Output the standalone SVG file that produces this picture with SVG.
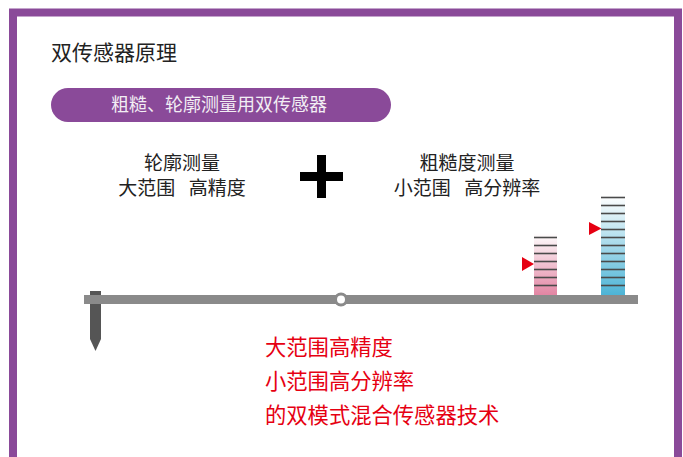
<svg xmlns="http://www.w3.org/2000/svg" width="683" height="457" viewBox="0 0 683 457">
<defs>
<style>
text{font-family:"Noto Sans CJK SC","Noto Sans",sans-serif;}
.dark{fill:#222;}
.head{font-size:19px;fill:#222;text-anchor:middle;}
.red{font-size:21.3px;fill:#e60012;}
.tick{stroke:#4a4a4a;stroke-width:1.6;}
.mark{fill:#e60012;}
</style>
<linearGradient id="gPink" x1="0" y1="0" x2="0" y2="1">
<stop offset="0" stop-color="#ffffff"/>
<stop offset="1" stop-color="#e285a3"/>
</linearGradient>
<linearGradient id="gBlue" x1="0" y1="0" x2="0" y2="1">
<stop offset="0" stop-color="#ffffff"/>
<stop offset="1" stop-color="#4db4d6"/>
</linearGradient>
</defs>
<rect x="0" y="0" width="683" height="457" fill="#fff"/>
<rect x="13" y="12.5" width="665" height="460" fill="none" stroke="#8a4a99" stroke-width="8"/>
<g id="title"><text class="dark" x="51" y="60" font-size="21">双传感器原理</text></g>
<g id="banner">
<rect x="51" y="88" width="340" height="34" rx="17" fill="#8a4a99"/>
<text x="219" y="111" font-size="18" fill="#f2eef4" text-anchor="middle">粗糙、轮廓测量用双传感器</text>
</g>
<g id="contour">
<text class="head" x="182" y="170">轮廓测量</text>
<text class="head" x="182" y="195" style="white-space:pre">大范围  <tspan dx="5">高精度</tspan></text>
</g>
<g id="plus">
<rect x="300" y="172" width="43" height="9" fill="#000"/>
<rect x="317" y="155" width="9" height="43" fill="#000"/>
</g>
<g id="roughness">
<text class="head" x="467" y="170">粗糙度测量</text>
<text class="head" x="467" y="195" style="white-space:pre">小范围  <tspan dx="5">高分辨率</tspan></text>
</g>
<g id="probe">
<polygon points="90,291 101,291 101,339 95.5,351 90,339" fill="#555"/>
</g>
<g id="beam">
<rect x="84" y="295" width="554" height="9" fill="#8a8a8a"/>
<circle cx="341" cy="299.5" r="5.5" fill="#fff" stroke="#8a8a8a" stroke-width="3"/>
</g>
<g id="pinkScale">
<rect x="534" y="233" width="23" height="62" fill="url(#gPink)"/>
<g class="tick">
<line x1="534" y1="237.5" x2="557" y2="237.5"/>
<line x1="534" y1="245.5" x2="557" y2="245.5"/>
<line x1="534" y1="253.5" x2="557" y2="253.5"/>
<line x1="534" y1="261.5" x2="557" y2="261.5"/>
<line x1="534" y1="269.5" x2="557" y2="269.5"/>
<line x1="534" y1="277.5" x2="557" y2="277.5"/>
<line x1="534" y1="285.5" x2="557" y2="285.5"/>
</g>
<polygon class="mark" points="522,257 534,264 522,271"/>
</g>
<g id="blueScale">
<rect x="601" y="196" width="24" height="99" fill="url(#gBlue)"/>
<g class="tick">
<line x1="601" y1="197.5" x2="625" y2="197.5"/>
<line x1="601" y1="205.5" x2="625" y2="205.5"/>
<line x1="601" y1="213.5" x2="625" y2="213.5"/>
<line x1="601" y1="221.5" x2="625" y2="221.5"/>
<line x1="601" y1="229.5" x2="625" y2="229.5"/>
<line x1="601" y1="237.5" x2="625" y2="237.5"/>
<line x1="601" y1="245.5" x2="625" y2="245.5"/>
<line x1="601" y1="253.5" x2="625" y2="253.5"/>
<line x1="601" y1="261.5" x2="625" y2="261.5"/>
<line x1="601" y1="269.5" x2="625" y2="269.5"/>
<line x1="601" y1="277.5" x2="625" y2="277.5"/>
<line x1="601" y1="285.5" x2="625" y2="285.5"/>
</g>
<polygon class="mark" points="589,222 601.5,228.5 589,235"/>
</g>
<g id="summary">
<text class="red" x="265" y="355">大范围高精度</text>
<text class="red" x="265" y="389">小范围高分辨率</text>
<text class="red" x="265" y="423">的双模式混合传感器技术</text>
</g>
<g id="connectors"></g>
</svg>
